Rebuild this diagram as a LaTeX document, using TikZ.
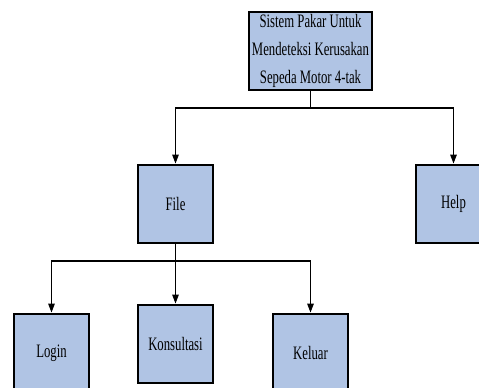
\documentclass[tikz,border=0pt]{standalone}
\usepackage{fontspec}
\setmainfont{Liberation Serif}[FakeStretch=0.67]
\usepackage{xcolor}
\usetikzlibrary{arrows.meta, positioning}
\definecolor{bleuBoite}{RGB}{176,196,228}

\begin{document}
\begin{tikzpicture}[
				x=1pt, y=-1pt,
				% Styles des boites et des fleches
				boite/.style={draw=black, fill=bleuBoite, line width=2.8pt, inner sep=0pt, minimum width=75pt, minimum height=78pt, align=center, font=\fontsize{19}{27.7}\selectfont},
				trait/.style={line width=1.3pt},
				fleche/.style={trait, -{Triangle[length=9pt, width=6.5pt]}},
				]
				
				\clip (0,0) rectangle (479,388);
				
				% Niveau du haut
				\node[boite, minimum width=123pt] (sistem) at (310.5, 51) {Sistem Pakar Untuk\\Mendeteksi Kerusakan\\Sepeda Motor 4-tak};
				
				% Niveau du milieu
				\node[boite] (file) at (175.5, 204) {File};
				\node[boite] (help) at (453.5, 204) {Help};
				
				% Niveau du bas
				\node[boite] (login) at (51.5, 353) {Login};
				\node[boite] (konsultasi) at (175.5, 344) {Konsultasi};
				\node[boite] (keluar) at (310.5, 353) {Keluar};
				
				\coordinate (bus1) at (310.5, 108);
				\coordinate (bus2) at (175.5, 261);
				
				\draw[trait] (sistem.south) -- (bus1);
				\draw[fleche] (bus1) -| (file.north);
				\draw[fleche] (bus1) -| (help.north);
				
				\draw[trait] (file.south) -- (bus2);
				\draw[fleche] (bus2) -| (login.north);
				\draw[fleche] (bus2) -- (konsultasi.north);
				\draw[fleche] (bus2) -| (keluar.north);
				
\end{tikzpicture}
\end{document}
